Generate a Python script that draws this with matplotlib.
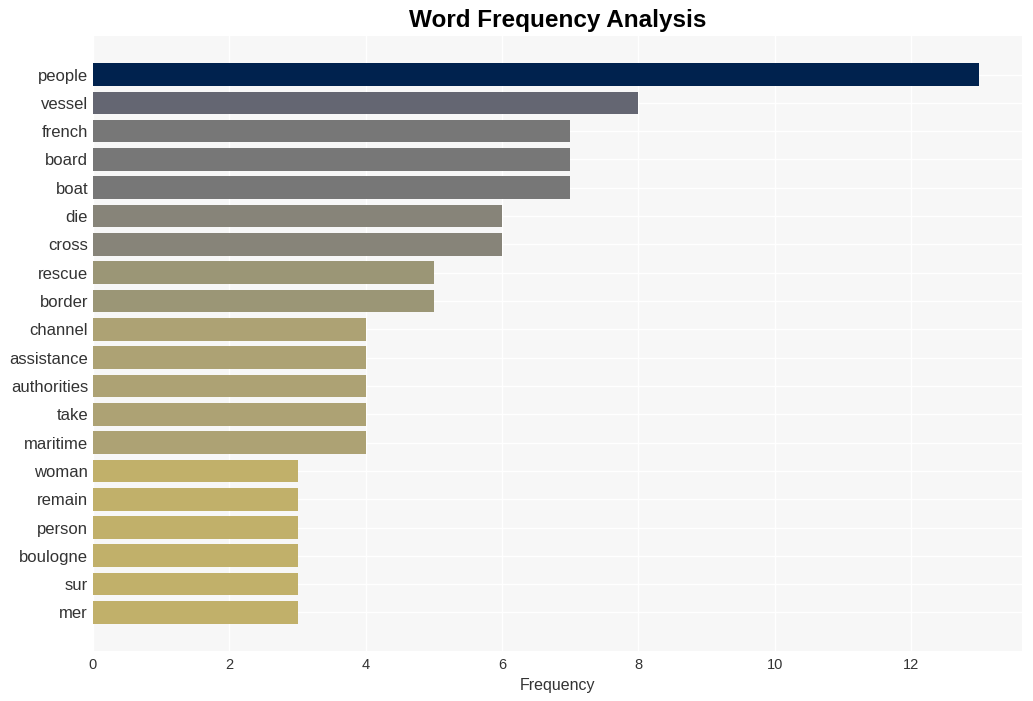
import matplotlib.pyplot as plt

words = ["people", "vessel", "french", "board", "boat", "die", "cross",
         "rescue", "border", "channel", "assistance", "authorities", "take",
         "maritime", "woman", "remain", "person", "boulogne", "sur", "mer"]
counts = [13, 8, 7, 7, 7, 6, 6, 5, 5, 4, 4, 4, 4, 4, 3, 3, 3, 3, 3, 3]

# colour per frequency
shade = {13: "#00224e", 8: "#646672", 7: "#777777", 6: "#878479",
         5: "#9b9676", 4: "#ada274", 3: "#c1b06a"}

plt.rcParams["font.family"] = ["Liberation Sans", "DejaVu Sans"]


def main():
    fig = plt.figure(figsize=(10.33, 7.01), dpi=100)
    ax = fig.add_axes([0.09, 0.071, 0.899, 0.878])
    ax.set_facecolor("#f7f7f7")

    ypos = list(range(len(words)))
    ax.barh(ypos, counts, height=0.8, color=[shade[c] for c in counts], zorder=2)
    ax.set_yticks(ypos)
    ax.set_yticklabels(words, fontsize=12, color="#333333")
    ax.set_ylim(len(words) - 1 + 1.37, -1.37)
    ax.set_xlim(0, 13.62)
    ax.set_xticks([0, 2, 4, 6, 8, 10, 12])
    ax.tick_params(axis="x", labelsize=10.5, colors="#333333", length=0, pad=5)
    ax.tick_params(axis="y", length=0, pad=3.5)

    ax.grid(True, color="white", linewidth=1, zorder=1)
    for s in ax.spines.values():
        s.set_visible(False)

    ax.set_xlabel("Frequency", fontsize=11.5, color="#333333", labelpad=4)
    ax.set_title("Word Frequency Analysis", fontsize=17.5, fontweight="bold", pad=6)

    fig.savefig("out.png")
    plt.close(fig)


if __name__ == "__main__":
    main()
